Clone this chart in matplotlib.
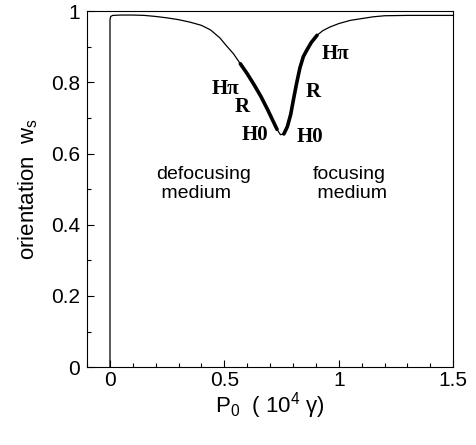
import numpy as np
import matplotlib
matplotlib.use('Agg')
import matplotlib.pyplot as plt
from matplotlib.ticker import MultipleLocator

plt.rcParams['mathtext.fontset'] = 'custom'
plt.rcParams['mathtext.rm'] = 'Liberation Sans'
plt.rcParams['mathtext.it'] = 'Liberation Sans'

# orientation curve w_s versus P0 (units of 1e4 gamma)
p0 = [0.0, 0.0, 0.003, 0.012, 0.05, 0.10, 0.15, 0.20, 0.25, 0.30, 0.35, 0.40,
      0.44, 0.48, 0.51, 0.54, 0.57, 0.60, 0.63, 0.66, 0.69, 0.71, 0.73, 0.745,
      0.76, 0.775, 0.79, 0.80, 0.815, 0.83, 0.845, 0.86, 0.88, 0.905, 0.93,
      0.96, 1.00, 1.05, 1.10, 1.15, 1.20, 1.30, 1.40, 1.50]
ws = [0.0, 0.975, 0.985, 0.988, 0.989, 0.989, 0.988, 0.985, 0.981, 0.976, 0.969, 0.960,
      0.947, 0.925, 0.902, 0.880, 0.852, 0.824, 0.793, 0.760, 0.722, 0.695, 0.668, 0.653,
      0.655, 0.675, 0.710, 0.745, 0.795, 0.840, 0.872, 0.890, 0.912, 0.932, 0.945,
      0.955, 0.965, 0.974, 0.979, 0.984, 0.987, 0.988, 0.988, 0.988]

# stable branches drawn thick
left_thick = (0.565, 0.735)
right_thick = (0.76, 0.905)

# state labels
lab_text = ['H\u03c0', 'R', 'H0', 'H0', 'R', 'H\u03c0']
lab_x = [0.505, 0.577, 0.634, 0.875, 0.89, 0.985]
lab_y = [0.78, 0.73, 0.652, 0.646, 0.773, 0.88]

p0 = np.array(p0)
ws = np.array(ws)

fig = plt.figure(figsize=(4.76, 4.45), dpi=100)
ax = fig.add_axes([0.183, 0.175, 0.769, 0.800])

ax.plot(p0, ws, color='black', lw=0.9)
for lo, hi in (left_thick, right_thick):
    m = (p0 >= lo) & (p0 <= hi)
    ax.plot(p0[m], ws[m], color='black', lw=2.6, solid_capstyle='round')

for t, x, y in zip(lab_text, lab_x, lab_y):
    ax.text(x, y, t, ha='center', va='center', fontsize=15,
            family='Liberation Serif', fontweight='bold')

ax.text(0.2, 0.515, 'defocusing\n medium', ha='left', va='center', fontsize=14,
        family='Liberation Sans', linespacing=1.15)
ax.text(0.885, 0.515, 'focusing\n medium', ha='left', va='center', fontsize=14,
        family='Liberation Sans', linespacing=1.15)

ax.set_xlim(-0.1, 1.5)
ax.set_ylim(0, 1)
ax.xaxis.set_minor_locator(MultipleLocator(0.1))
ax.yaxis.set_minor_locator(MultipleLocator(0.1))
ax.set_xticks([0, 0.5, 1, 1.5])
ax.set_xticklabels(['0', '0.5', '1', '1.5'])
ax.set_yticks([0, 0.2, 0.4, 0.6, 0.8, 1])
ax.set_yticklabels(['0', '0.2', '0.4', '0.6', '0.8', '1'])
ax.tick_params(which='both', direction='in', top=False, right=False,
               labelsize=15)
ax.tick_params(axis='x', pad=3)
ax.tick_params(axis='y', pad=5)
ax.tick_params(which='major', length=5, width=0.8)
ax.tick_params(which='minor', length=3, width=0.8)
for lab in ax.get_xticklabels() + ax.get_yticklabels():
    lab.set_family('Liberation Sans')

ax.set_xlabel('P$_0$  ( 10$^4$ \u03b3)', fontsize=16, family='Liberation Sans',
              labelpad=0)
ax.set_ylabel('orientation  w$_s$', fontsize=16, family='Liberation Sans',
              labelpad=8)

fig.savefig('out.png', dpi=100)
